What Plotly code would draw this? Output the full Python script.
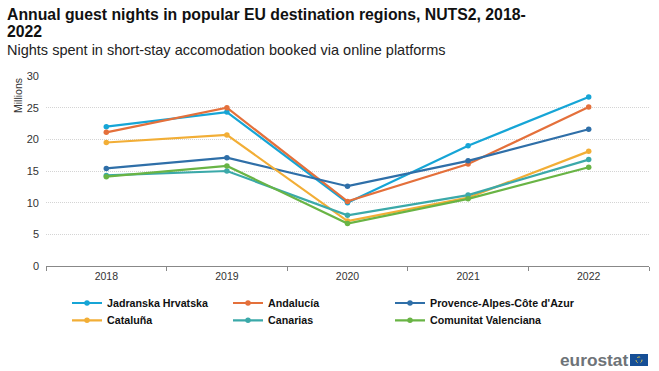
import plotly.graph_objects as go

years = ["2018", "2019", "2020", "2021", "2022"]
jadranska = [22.0, 24.3, 10.0, 19.0, 26.7]
andalucia = [21.1, 25.0, 10.2, 16.1, 25.1]
provence = [15.4, 17.1, 12.6, 16.6, 21.6]
cataluna = [19.5, 20.7, 7.1, 10.8, 18.1]
canarias = [14.3, 15.0, 8.0, 11.2, 16.8]
valenciana = [14.1, 15.8, 6.7, 10.6, 15.6]
y_ticks = [0, 5, 10, 15, 20, 25, 30]

series = [
    ("Jadranska Hrvatska", jadranska, "#16A5D6"),
    ("Andalucía", andalucia, "#E4703B"),
    ("Provence-Alpes-Côte d'Azur", provence, "#2F6FA8"),
    ("Cataluña", cataluna, "#F2AE36"),
    ("Canarias", canarias, "#3BA9A9"),
    ("Comunitat Valenciana", valenciana, "#69B445"),
]
FONT = "Liberation Sans, Arial, sans-serif"
W, H = 659, 371
L, R, T, B = 46, 649, 76, 266
px = lambda x: (x - L) / (R - L)
py = lambda y: (B - y) / (B - T)

legend_x = [67, 228, 390]
legend_y = [288.5, 305.8]

fig = go.Figure()
layout_legends = {}
for i, (name, vals, col) in enumerate(series):
    key = "legend" if i == 0 else f"legend{i + 1}"
    fig.add_trace(go.Scatter(x=years, y=vals, name=name, mode="lines+markers",
                             legend=key, showlegend=True,
                             line=dict(color=col, width=2.2),
                             marker=dict(color=col, size=5.5)))
    layout_legends[key] = dict(
        orientation="v", x=px(legend_x[i % 3]), xanchor="left",
        y=py(legend_y[i // 3]), yanchor="top", itemwidth=30,
        font=dict(size=10.7, color="#111111", weight="bold"),
        bgcolor="rgba(0,0,0,0)")

fig.update_layout(
    width=W, height=H, autosize=False, paper_bgcolor="white", plot_bgcolor="white",
    margin=dict(l=L, r=W - R, t=T, b=H - B, autoexpand=False),
    showlegend=True,
    font=dict(family=FONT, size=11, color="#333333"),
    xaxis=dict(type="category", range=[-0.5, 4.5], tickson="boundaries", ticks="outside",
               ticklen=4, tickcolor="#888888", linecolor="#888888", showline=True,
               showgrid=False, tickfont=dict(size=10.5, color="#333333"), zeroline=False),
    yaxis=dict(range=[0, 30], tickvals=y_ticks, showgrid=True, griddash="1px,1px",
               gridcolor="#D4D4D4", gridwidth=1, zeroline=False, ticks="",
               ticklabelstandoff=6,
               tickfont=dict(size=11, color="#333333")),
    annotations=[
        dict(text="<b>Annual guest nights in popular EU destination regions, NUTS2, 2018-</b>",
             xref="paper", yref="paper", x=px(5), y=py(14), xanchor="left",
             yanchor="middle", align="left", showarrow=False,
             font=dict(size=15.8, color="#111111")),
        dict(text="<b>2022</b>",
             xref="paper", yref="paper", x=px(5), y=py(32), xanchor="left",
             yanchor="middle", align="left", showarrow=False,
             font=dict(size=15.8, color="#111111")),
        dict(text="Nights spent in short-stay accomodation booked via online platforms",
             xref="paper", yref="paper", x=px(5), y=py(50), xanchor="left",
             yanchor="middle", showarrow=False, font=dict(size=14.5, color="#222222")),
        dict(text="Millions", xref="paper", yref="paper", x=px(18), y=py(96),
             xanchor="center", yanchor="middle", textangle=-90, showarrow=False,
             font=dict(size=10.5, color="#333333")),
        dict(text="eurostat", xref="paper", yref="paper", x=px(630),
             y=py(360), xanchor="right", yanchor="middle", showarrow=False,
             font=dict(size=17.3, color="#6E7378", weight="bold")),
    ],
    shapes=[
        dict(type="rect", xref="paper", yref="paper", x0=px(630), x1=px(648),
             y0=py(366), y1=py(354), fillcolor="#164F96", line_width=0),
        dict(type="circle", xref="paper", yref="paper", x0=px(636), x1=px(642),
             y0=py(363), y1=py(357), fillcolor="rgba(0,0,0,0)",
             line=dict(color="#E5C94A", width=1, dash="dot")),
    ],
    **layout_legends,
)
fig.write_html("out.html", config={"displayModeBar": False},
               post_script="document.body.style.margin='0';")
